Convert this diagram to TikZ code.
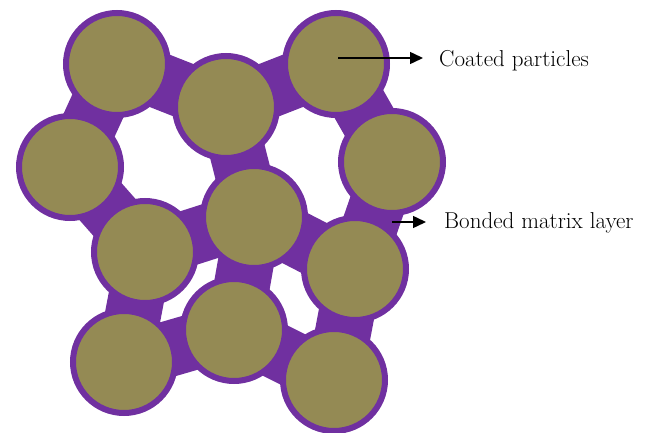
\documentclass[tikz,border=0pt]{standalone}
\usepackage{xcolor}
\usepackage{tikz}
\usetikzlibrary{arrows.meta,positioning,backgrounds}
\definecolor{coatpurple}{HTML}{7030A0}
\definecolor{grainolive}{HTML}{948A54}
\tikzset{
  particle/.style={circle, draw=coatpurple, fill=grainolive, line width=6pt, minimum size=102pt, inner sep=0pt},
  bond/.style={draw=coatpurple, line width=56pt},
  pointer/.style={-{Triangle[length=13pt, width=12pt]}, line width=1.5pt},
  tag/.style={inner sep=0pt, anchor=base west, font=\fontsize{23}{27}\selectfont}
}

\begin{document}
\begin{tikzpicture}[x=1pt, y=-1pt]
\useasboundingbox (0,0) rectangle (651,433);

\node (p1)  [particle] at (117,64)  {};
\node (p2)  [particle] at (226,107) {};
\node (p3)  [particle] at (336,64)  {};
\node (p4)  [particle] at (70,167)  {};
\node (p5)  [particle] at (392,162) {};
\node (p6)  [particle] at (254,217) {};
\node (p7)  [particle] at (145,252) {};
\node (p8)  [particle] at (355,269) {};
\node (p9)  [particle] at (124,362) {};
\node (p10) [particle] at (234,330) {};
\node (p11) [particle] at (334,380) {};

\begin{pgfonlayer}{background}
\foreach \from/\to in {p1/p2, p2/p3, p1/p4, p3/p5, p2/p6, p4/p7, p7/p6, p6/p8,
                       p5/p8, p6/p10, p7/p9, p9/p10, p10/p11, p8/p11}{
  \draw[bond] (\from.center) -- (\to.center);
}
\end{pgfonlayer}

\coordinate (cp) at (338,58);
\coordinate (bm) at (392,222);

\node (coated) [tag] at (439,67)  {Coated particles};
\node (matrix) [tag] at (444,229) {Bonded matrix layer};

\draw[pointer, shorten >=16pt] (cp) -- (cp -| coated.west);
\draw[pointer, shorten >=18pt] (bm) -- (bm -| matrix.west);

\end{tikzpicture}
\end{document}
